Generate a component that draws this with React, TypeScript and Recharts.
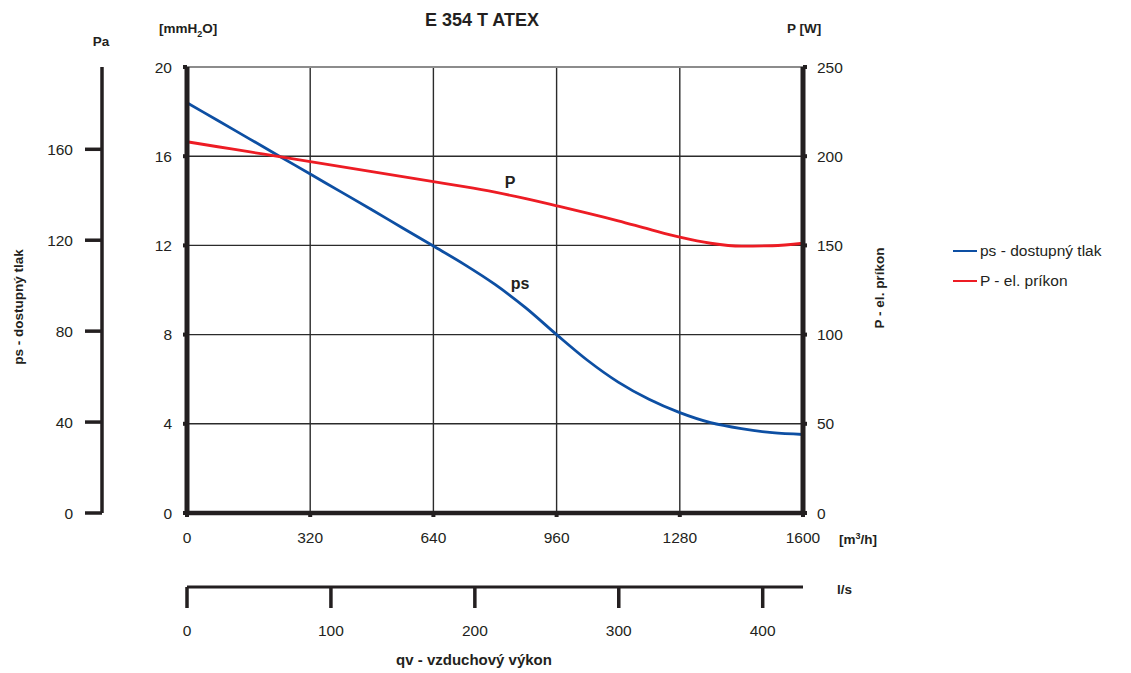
import React from 'react';
import {
  ComposedChart,
  Line,
  XAxis,
  YAxis,
  CartesianGrid,
  Legend,
  ReferenceLine,
  LabelList,
} from 'recharts';

// ---- data ----
const flow = [0, 80, 160, 240, 320, 400, 480, 560, 640, 720, 800, 880, 960, 1040, 1120, 1200, 1280, 1360, 1440, 1520, 1600];
const psMm = [18.4, 17.6, 16.8, 16.0, 15.2, 14.4, 13.6, 12.78, 11.97, 11.15, 10.25, 9.2, 8.0, 6.85, 5.87, 5.1, 4.5, 4.05, 3.78, 3.6, 3.52];
const powerW = [208.1, 205.3, 202.5, 199.7, 196.9, 194.1, 191.3, 188.5, 185.7, 182.9, 179.8, 176.2, 172.2, 168.1, 163.8, 159.1, 154.6, 151.2, 149.6, 149.8, 151.2];

const flowTicks = [0, 320, 640, 960, 1280, 1600];
const lsTicks = [0, 100, 200, 300, 400];
const mmTicks = [0, 4, 8, 12, 16, 20];
const paTicks = [0, 40, 80, 120, 160];
const wTicks = [0, 50, 100, 150, 200, 250];

const flowDomain = [0, 1600];
const lsDomain = [0, 428];
const mmDomain = [0, 20];
const paDomain = [0, 196.2];
const wDomain = [0, 250];

const seriesNames = ['ps - dostupný tlak', 'P - el. príkon'];
const annotFlow = 800;

const data = flow.map((q, i) => ({ q, ps: psMm[i], P: powerW[i] }));

// ---- styles ----
const FONT = '"Liberation Sans", Arial, Helvetica, sans-serif';
const INK = '#231f20';
const BLUE = '#0d4fa3';
const RED = '#ed1c24';
const tickStyle = { fill: INK, fontSize: 15.5, fontFamily: FONT };

const boldText = (size: number) => ({ fontFamily: FONT, fontSize: size, fontWeight: 'bold' as const, fill: INK });

const mmLabel = (props: any) => {
  const { x, y, width } = props.viewBox;
  return (
    <text x={x + width - 28} y={y - 34} {...boldText(13.5)}>
      [mmH<tspan dy={4} fontSize={9}>2</tspan>
      <tspan dy={-4}>O]</tspan>
    </text>
  );
};

const paLabel = (props: any) => {
  const { x, y, width, height } = props.viewBox;
  const cx = x + 18;
  const cy = y + height / 2 + 17;
  return (
    <g>
      <text x={x + width - 1} y={y - 21} textAnchor="middle" {...boldText(13.5)}>Pa</text>
      <text x={cx} y={cy} textAnchor="middle" dominantBaseline="central" transform={`rotate(-90, ${cx}, ${cy})`} {...boldText(13.5)}>
        ps - dostupný tlak
      </text>
    </g>
  );
};

const wLabel = (props: any) => {
  const { x, y, height } = props.viewBox;
  const cx = x + 76;
  const cy = y + height / 2 - 2;
  return (
    <g>
      <text x={x - 16} y={y - 34} {...boldText(13.5)}>P [W]</text>
      <text x={cx} y={cy} textAnchor="middle" dominantBaseline="central" transform={`rotate(-90, ${cx}, ${cy})`} {...boldText(13.5)}>
        P - el. príkon
      </text>
    </g>
  );
};

const m3Label = (props: any) => {
  const { x, y, width } = props.viewBox;
  return (
    <g>
      <text x={x + width + 36} y={y + 31} {...boldText(13.5)}>
        [m<tspan dy={-5} fontSize={9}>3</tspan>
        <tspan dy={5}>/h]</tspan>
      </text>
      <text x={x + 295} y={y - 487} textAnchor="middle" {...boldText(18)}>E 354 T ATEX</text>
    </g>
  );
};

const lsLabel = (props: any) => {
  const { x, y, width, height } = props.viewBox;
  return (
    <g>
      <text x={x + width + 34} y={y + 7} {...boldText(13.5)}>l/s</text>
      <text x={x + 287} y={y + height - 8} textAnchor="middle" {...boldText(15)}>qv - vzduchový výkon</text>
    </g>
  );
};

const curveLabel = (text: string, dx: number, dy: number) => (props: any) => {
  const { x, y, index } = props;
  if (flow[index] !== annotFlow) return null;
  return (
    <text x={x + dx} y={y + dy} textAnchor="middle" {...boldText(16)}>{text}</text>
  );
};

const renderLegend = (props: any) => {
  const items = [...(props.payload || [])].sort(
    (a: any, b: any) => seriesNames.indexOf(a.value) - seriesNames.indexOf(b.value)
  );
  return (
    <div style={{ fontFamily: FONT, fontSize: 15.5, color: INK }}>
      {items.map((e: any) => (
        <div key={e.value} style={{ display: 'flex', alignItems: 'center', height: 30, whiteSpace: 'nowrap' }}>
          <span style={{ display: 'inline-block', width: 24, height: 2.5, background: e.color, marginRight: 3 }} />
          <span>{e.value}</span>
        </div>
      ))}
    </div>
  );
};

const noValue = () => null;

export default function App() {
  return (
    <div style={{ position: 'absolute', left: 0, top: 0, width: 1131, height: 673, background: '#fff' }}>
      <ComposedChart
        width={1131}
        height={673}
        data={data}
        margin={{ top: 67, right: 228, bottom: 0, left: 0 }}
      >
        <CartesianGrid xAxisId="a_flow" yAxisId="mm" stroke="#2b2b2b" strokeWidth={1.4} />
        <XAxis
          xAxisId="a_flow"
          dataKey="q"
          type="number"
          domain={flowDomain}
          ticks={flowTicks}
          height={74}
          axisLine={{ stroke: INK, strokeWidth: 4.5 }}
          tickLine={{ stroke: INK, strokeWidth: 4 }}
          tickSize={4}
          tickMargin={15}
          tick={tickStyle}
          interval={0}
          label={{ content: m3Label }}
        />
        <XAxis
          xAxisId="b_ls"
          dataKey={noValue}
          type="number"
          domain={lsDomain}
          ticks={lsTicks}
          height={86}
          allowDataOverflow
          axisLine={{ stroke: INK, strokeWidth: 3 }}
          tickLine={{ stroke: INK, strokeWidth: 3.5 }}
          tickSize={21}
          tickMargin={17}
          tick={tickStyle}
          interval={0}
          label={{ content: lsLabel }}
        />
        <YAxis
          yAxisId="mm"
          orientation="left"
          type="number"
          domain={mmDomain}
          ticks={mmTicks}
          width={85}
          axisLine={{ stroke: INK, strokeWidth: 5 }}
          tickLine={{ stroke: INK, strokeWidth: 4 }}
          tickSize={4}
          tickMargin={11}
          tick={tickStyle}
          interval={0}
          label={{ content: mmLabel }}
        />
        <YAxis
          yAxisId="pa"
          orientation="left"
          type="number"
          domain={paDomain}
          ticks={paTicks}
          width={102}
          allowDataOverflow
          axisLine={{ stroke: INK, strokeWidth: 3.5 }}
          tickLine={{ stroke: INK, strokeWidth: 3.5 }}
          tickSize={17}
          tickMargin={12}
          tick={tickStyle}
          interval={0}
          label={{ content: paLabel }}
        />
        <YAxis
          yAxisId="w"
          orientation="right"
          type="number"
          domain={wDomain}
          ticks={wTicks}
          width={100}
          axisLine={{ stroke: INK, strokeWidth: 5 }}
          tickLine={{ stroke: INK, strokeWidth: 4 }}
          tickSize={4}
          tickMargin={10}
          tick={tickStyle}
          interval={0}
          label={{ content: wLabel }}
        />
        <ReferenceLine xAxisId="a_flow" yAxisId="mm" y={20} stroke="#8c8c8c" strokeWidth={2} />
        <Line
          xAxisId="a_flow"
          yAxisId="mm"
          dataKey="ps"
          name={seriesNames[0]}
          type="monotone"
          stroke={BLUE}
          strokeWidth={2.8}
          dot={false}
          activeDot={false}
          isAnimationActive={false}
        >
          <LabelList dataKey="ps" content={curveLabel('ps', 25, 4.5)} />
        </Line>
        <Line
          xAxisId="a_flow"
          yAxisId="w"
          dataKey="P"
          name={seriesNames[1]}
          type="monotone"
          stroke={RED}
          strokeWidth={2.8}
          dot={false}
          activeDot={false}
          isAnimationActive={false}
        >
          <LabelList dataKey="P" content={curveLabel('P', 15, -4.5)} />
        </Line>
        <Legend
          layout="vertical"
          align="center"
          verticalAlign="middle"
          content={renderLegend}
          wrapperStyle={{ left: 953, top: 236, width: 178, height: 60 }}
        />
      </ComposedChart>
    </div>
  );
}
